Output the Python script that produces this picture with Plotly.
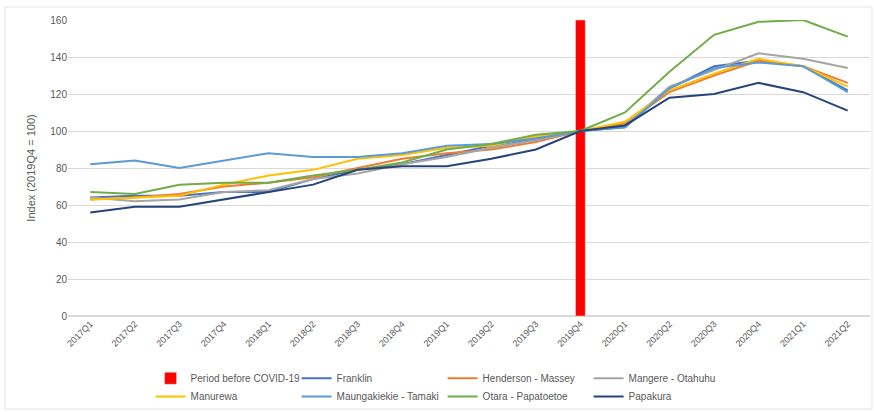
import plotly.graph_objects as go

quarters = ["2017Q1","2017Q2","2017Q3","2017Q4","2018Q1","2018Q2","2018Q3","2018Q4",
            "2019Q1","2019Q2","2019Q3","2019Q4","2020Q1","2020Q2","2020Q3","2020Q4",
            "2021Q1","2021Q2"]

covid_marker_quarter = ["2019Q4"]
covid_marker_value = [160]

franklin = [64, 65, 65, 67, 67, 74, 79, 82, 87, 92, 96, 100, 102, 123, 135, 138, 135, 122]
henderson = [63, 64, 66, 70, 72, 75, 80, 85, 88, 90, 94, 100, 104, 121, 130, 138, 135, 126]
mangere = [64, 62, 63, 67, 68, 74, 77, 82, 86, 91, 95, 100, 103, 124, 133, 142, 139, 134]
manurewa = [63, 64, 65, 71, 76, 79, 85, 87, 91, 92, 97, 100, 105, 122, 131, 139, 135, 124]
maungakiekie = [82, 84, 80, 84, 88, 86, 86, 88, 92, 93, 96, 100, 102, 123, 134, 137, 135, 121]
otara = [67, 66, 71, 72, 72, 76, 79, 83, 90, 93, 98, 100, 110, 132, 152, 159, 160, 151]
papakura = [56, 59, 59, 63, 67, 71, 79, 81, 81, 85, 90, 100, 103, 118, 120, 126, 121, 111]

series = [
    ("Franklin", franklin, "#4472C4", "legend"),
    ("Henderson - Massey", henderson, "#ED7D31", "legend"),
    ("Mangere - Otahuhu", mangere, "#A5A5A5", "legend"),
    ("Manurewa", manurewa, "#FFC000", "legend2"),
    ("Maungakiekie - Tamaki", maungakiekie, "#5B9BD5", "legend2"),
    ("Otara - Papatoetoe", otara, "#70AD47", "legend2"),
    ("Papakura", papakura, "#264478", "legend2"),
]

fig = go.Figure()
fig.add_trace(go.Bar(x=covid_marker_quarter, y=covid_marker_value, name="Period before COVID-19",
                     marker_color="#FF0000", width=0.22, legend="legend"))
for name, vals, col, lg in series:
    fig.add_trace(go.Scatter(x=quarters, y=vals, mode="lines", name=name, legend=lg,
                             line=dict(color=col, width=2)))

leg_common = dict(orientation="h", x=0.103, xanchor="left", yref="container", yanchor="top",
                  entrywidth=101, entrywidthmode="pixels", itemwidth=30,
                  font=dict(size=10, color="#595959"), tracegroupgap=0, traceorder="normal",
                  bgcolor="rgba(0,0,0,0)")

fig.update_layout(
    width=874, height=412,
    margin=dict(l=68, r=4, t=20, b=96, autoexpand=False),
    paper_bgcolor="white", plot_bgcolor="white",
    font=dict(family="Liberation Sans", size=10, color="#595959"),
    showlegend=True,
    legend=dict(y=0.117, **leg_common),
    legend2=dict(y=0.073, **leg_common),
    shapes=[dict(type="rect", xref="paper", yref="paper",
                 x0=(5 - 68) / 802, x1=(872 - 68) / 802,
                 y0=(316 - 409) / 296, y1=(316 - 7) / 296,
                 line=dict(color="#E6E6E6", width=1), fillcolor="rgba(0,0,0,0)", layer="below")],
)
fig.update_xaxes(type="category", categoryorder="array", categoryarray=quarters,
                 range=[-0.5, 17.5], tickangle=-45, showgrid=False,
                 showline=False, ticks="", tickfont=dict(size=9, color="#595959"))
fig.update_yaxes(range=[0, 160], dtick=20, showgrid=True, gridcolor="#D9D9D9", gridwidth=1,
                 zeroline=True, zerolinecolor="#D9D9D9", showline=False, ticks="",
                 title=dict(text="Index (2019Q4 = 100)", font=dict(size=11, color="#595959"),
                            standoff=12),
                 tickfont=dict(size=10, color="#595959"))

fig.write_html("out.html")
